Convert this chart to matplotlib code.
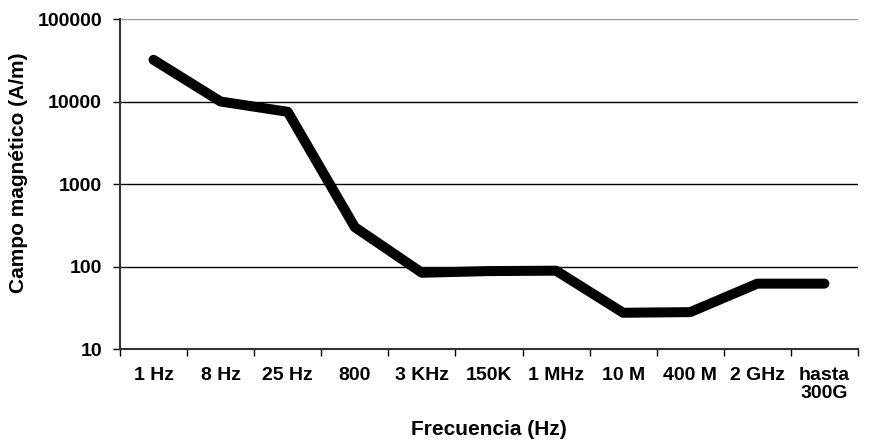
import numpy as np
import matplotlib
matplotlib.use("Agg")
import matplotlib.pyplot as plt
from matplotlib.ticker import FixedLocator, NullLocator, FixedFormatter

categories = ["1 Hz", "8 Hz", "25 Hz", "800", "3 KHz", "150K", "1 MHz",
              "10 M", "400 M", "2 GHz", "hasta\n300G"]
campo = [32000, 10000, 7500, 300, 84, 88, 89, 27.5, 28, 62, 62]
yticks = [10, 100, 1000, 10000, 100000]

plt.rcParams['font.family'] = ['Liberation Sans', 'DejaVu Sans']
plt.rcParams['font.weight'] = 'bold'

fig = plt.figure(figsize=(8.88, 4.4), dpi=100)
ax = fig.add_axes([0.1351, 0.2068, 0.8311, 0.75])

x = np.arange(len(categories))
ax.plot(x, campo, color='black', lw=7.2, solid_capstyle='round',
        solid_joinstyle='round', zorder=3)

ax.set_yscale('log')
ax.set_ylim(10, 100000)
ax.set_xlim(-0.5, len(categories) - 0.5)

ax.yaxis.set_major_locator(FixedLocator(yticks))
ax.yaxis.set_major_formatter(FixedFormatter([str(v) for v in yticks]))
ax.yaxis.set_minor_locator(NullLocator())
ax.grid(axis='y', color='black', lw=1)
ax.get_ygridlines()[-1].set_color('#999999')

ax.set_xticks(x)
ax.set_xticklabels(categories, fontweight='bold', fontsize=14, linespacing=1.05)
ax.set_xticks(np.arange(-0.5, len(categories)), minor=True)
ax.tick_params(axis='x', which='major', length=0, pad=13)
ax.tick_params(axis='x', which='minor', length=5, width=1, direction='out')
ax.tick_params(axis='y', length=5, width=1, direction='out', labelsize=14, pad=8)
for lab in ax.get_yticklabels():
    lab.set_fontweight('bold')

for s in ['top', 'right']:
    ax.spines[s].set_visible(False)
ax.spines['left'].set_linewidth(1.5)
ax.spines['bottom'].set_linewidth(1.5)
ax.spines['left'].set_color('#333333')
ax.spines['bottom'].set_color('#333333')

ax.set_xlabel('Frecuencia (Hz)', fontsize=15, fontweight='bold', labelpad=13)
ax.set_ylabel('Campo magnético (A/m)', fontsize=15, fontweight='bold')
ax.yaxis.set_label_coords(-0.125, 0.535)

fig.savefig('out.png', dpi=100)
